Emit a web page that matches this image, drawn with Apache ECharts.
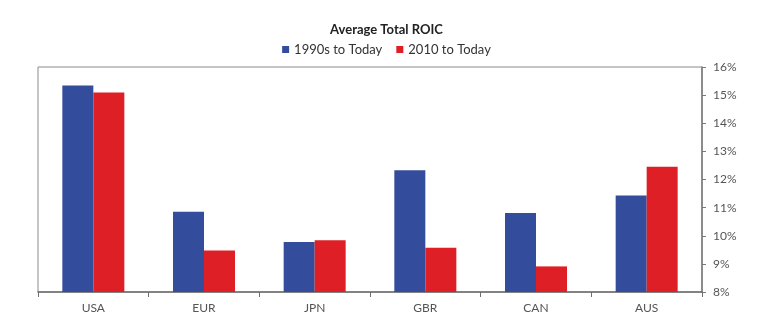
<!DOCTYPE html>
<html><head><meta charset="utf-8">
<script src="https://cdn.jsdelivr.net/npm/echarts@6/dist/echarts.min.js"></script>
<style>html,body{margin:0;padding:0;background:#fff}#c{width:773px;height:331px}</style>
</head><body><div id="c"></div>
<script>
var categories = ['USA','EUR','JPN','GBR','CAN','AUS'];
var series1990s = [15.34, 10.85, 9.78, 12.33, 10.81, 11.43];
var series2010 = [15.09, 9.48, 9.84, 9.57, 8.91, 12.45];
var yTicks = [8,9,10,11,12,13,14,15,16];
var seriesNames = ['1990s to Today','2010 to Today'];
var font = 'Lato, "Open Sans", sans-serif';
var chart = echarts.init(document.getElementById('c'), null, {renderer:'canvas'});
chart.setOption({
  animation:false,
  title:{text:'Average Total ROIC', left:'center', top:18, textStyle:{fontFamily:font, fontSize:13, fontWeight:'bold', color:'#222'}},
  legend:{data:seriesNames, top:38, left:'center', itemWidth:7, itemHeight:7, itemGap:14, icon:'rect',
    textStyle:{fontFamily:font, fontSize:13, color:'#333'}},
  grid:{left:38, right:71, top:67, bottom:39, show:true, borderColor:'#8a8a8a', borderWidth:1},
  xAxis:{type:'category', data:categories,
    axisLine:{lineStyle:{color:'#6e6e6e', width:1.5}},
    axisTick:{show:true, length:5, lineStyle:{color:'#6e6e6e'}},
    axisLabel:{fontFamily:font, fontSize:12, color:'#555', margin:10}},
  yAxis:{type:'value', position:'right', min:yTicks[0], max:yTicks[yTicks.length-1], interval:1,
    splitLine:{show:false},
    axisLine:{show:true, lineStyle:{color:'#7a7a7a', width:1.5}},
    axisTick:{show:true, length:4, lineStyle:{color:'#7a7a7a'}},
    axisLabel:{fontFamily:font, fontSize:12, color:'#555', margin:11, formatter:function(v){return v+'%';}}},
  series:[
    {name:seriesNames[0], type:'bar', data:series1990s, barWidth:31, barGap:'0%', itemStyle:{color:'#344c9c'}},
    {name:seriesNames[1], type:'bar', data:series2010, barWidth:31, itemStyle:{color:'#de1f26'}}
  ]
});
</script></body></html>
